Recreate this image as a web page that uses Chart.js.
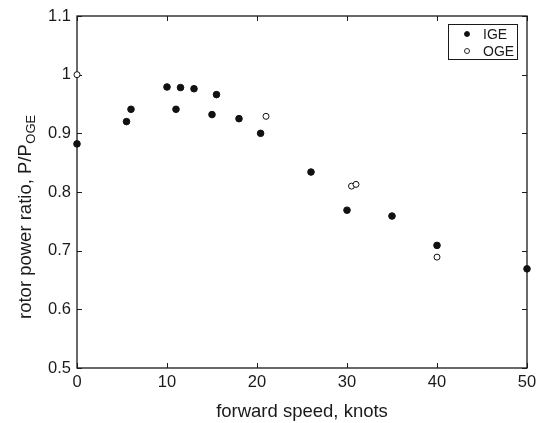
<!DOCTYPE html>
<html>
<head>
<meta charset="utf-8">
<script src="https://cdn.jsdelivr.net/npm/chart.js@4.4.0/dist/chart.umd.min.js"></script>
<style>
html, body { margin: 0; padding: 0; background: #fff; }
</style>
</head>
<body>
<canvas id="rotorChart" width="537" height="423"></canvas>
<script>
// data
var igeSpeed = [0, 5.5, 6, 10, 11, 11.5, 13, 15, 15.5, 18, 20.4, 26, 30, 35, 40, 50];
var igeRatio = [0.882, 0.920, 0.941, 0.979, 0.941, 0.978, 0.976, 0.932, 0.966, 0.925, 0.900, 0.834, 0.769, 0.759, 0.709, 0.669];
var ogeSpeed = [0, 21, 30.5, 31, 40];
var ogeRatio = [1.0, 0.929, 0.810, 0.813, 0.689];
var seriesNames = ['IGE', 'OGE'];
var xTicks = [0, 10, 20, 30, 40, 50];
var yTicks = [0.5, 0.6, 0.7, 0.8, 0.9, 1, 1.1];
var xTitle = 'forward speed, knots';
var yTitle = 'rotor power ratio, P/P';
var yTitleSub = 'OGE';

var FONT = '"Liberation Sans", Arial, Helvetica, sans-serif';
var INK = '#1a1a1a';

function toPoints(xs, ys) {
    return xs.map(function(x, i) { return { x: x, y: ys[i] }; });
}

// box, inward ticks on all four sides, axis titles
var framePlugin = {
    id: 'frame',
    beforeDatasetsDraw: function(chart) {
        var ctx = chart.ctx, a = chart.chartArea;
        var sx = chart.scales.x, sy = chart.scales.y;
        ctx.save();
        ctx.strokeStyle = INK;
        ctx.lineWidth = 1.3;
        ctx.strokeRect(a.left, a.top, a.right - a.left, a.bottom - a.top);
        ctx.lineWidth = 1;
        ctx.beginPath();
        xTicks.forEach(function(v) {
            var px = Math.round(sx.getPixelForValue(v)) + 0.5;
            ctx.moveTo(px, a.bottom); ctx.lineTo(px, a.bottom - 5);
            ctx.moveTo(px, a.top); ctx.lineTo(px, a.top + 5);
        });
        yTicks.forEach(function(v) {
            var py = Math.round(sy.getPixelForValue(v)) + 0.5;
            ctx.moveTo(a.left, py); ctx.lineTo(a.left + 5, py);
            ctx.moveTo(a.right, py); ctx.lineTo(a.right - 5, py);
        });
        ctx.stroke();

        // titles
        ctx.fillStyle = INK;
        ctx.font = '18.5px ' + FONT;
        ctx.textAlign = 'center';
        ctx.textBaseline = 'alphabetic';
        ctx.fillText(xTitle, (a.left + a.right) / 2, 417);

        ctx.translate(31, 319);
        ctx.rotate(-Math.PI / 2);
        ctx.textAlign = 'left';
        ctx.fillText(yTitle, 0, 0);
        var w = ctx.measureText(yTitle).width;
        ctx.font = '13px ' + FONT;
        ctx.fillText(yTitleSub, w + 0.5, 3.5);
        ctx.restore();
    }
};

// boxed legend in the top right corner
var legendPlugin = {
    id: 'boxLegend',
    afterDraw: function(chart) {
        var ctx = chart.ctx;
        var bx = 448, by = 24, bw = 69, bh = 35;
        ctx.save();
        ctx.fillStyle = '#fff';
        ctx.fillRect(bx, by, bw, bh);
        ctx.strokeStyle = INK;
        ctx.lineWidth = 1;
        ctx.strokeRect(bx + 0.5, by + 0.5, bw, bh);
        ctx.font = '14px ' + FONT;
        ctx.textBaseline = 'middle';
        ctx.textAlign = 'left';
        chart.data.datasets.forEach(function(ds, i) {
            var cy = by + 10 + i * 17;
            ctx.beginPath();
            ctx.arc(bx + 19, cy, 2.5, 0, Math.PI * 2);
            ctx.fillStyle = ds.backgroundColor;
            ctx.fill();
            ctx.strokeStyle = ds.borderColor;
            ctx.lineWidth = 0.9;
            ctx.stroke();
            ctx.fillStyle = INK;
            ctx.fillText(ds.label, bx + 35, cy + 1);
        });
        ctx.restore();
    }
};

var ctx = document.getElementById('rotorChart').getContext('2d');
var rotorChart = new Chart(ctx, {
    type: 'scatter',
    data: {
        datasets: [{
            label: seriesNames[0],
            data: toPoints(igeSpeed, igeRatio),
            backgroundColor: '#111',
            borderColor: '#111',
            borderWidth: 1,
            pointRadius: 3.3,
            clip: false
        }, {
            label: seriesNames[1],
            data: toPoints(ogeSpeed, ogeRatio),
            backgroundColor: '#fff',
            borderColor: '#111',
            borderWidth: 1,
            pointRadius: 3,
            clip: false
        }]
    },
    options: {
        responsive: false,
        animation: false,
        layout: { padding: { top: 16, right: 10, left: 0, bottom: 0 } },
        plugins: {
            legend: { display: false },
            tooltip: { enabled: false }
        },
        scales: {
            x: {
                type: 'linear',
                min: 0,
                max: 50,
                afterBuildTicks: function(s) { s.ticks = xTicks.map(function(v) { return { value: v }; }); },
                afterFit: function(s) { s.height = 55; s.paddingRight = 0; s.paddingLeft = 0; },
                grid: { display: false, drawTicks: false },
                border: { display: false },
                ticks: {
                    color: INK,
                    padding: 5,
                    maxRotation: 0,
                    font: { family: FONT, size: 16.5 },
                    callback: function(v) { return String(v); }
                }
            },
            y: {
                type: 'linear',
                min: 0.5,
                max: 1.1,
                afterBuildTicks: function(s) { s.ticks = yTicks.map(function(v) { return { value: v }; }); },
                afterFit: function(s) { s.width = 77; s.paddingTop = 0; s.paddingBottom = 0; },
                grid: { display: false, drawTicks: false },
                border: { display: false },
                ticks: {
                    color: INK,
                    padding: 6,
                    font: { family: FONT, size: 16.5 },
                    callback: function(v) { return String(+v.toFixed(1)); }
                }
            }
        }
    },
    plugins: [framePlugin, legendPlugin]
});
</script>
</body>
</html>
